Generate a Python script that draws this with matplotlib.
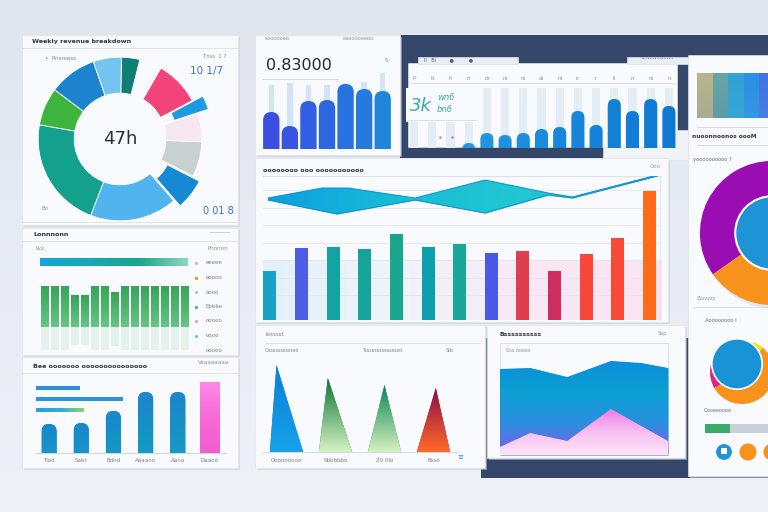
import numpy as np
import matplotlib.pyplot as plt
from matplotlib.patches import Rectangle, FancyBboxPatch, Polygon, Circle
from matplotlib.colors import LinearSegmentedColormap

W, H = 768, 512

# ---------------- values ----------------
donut_sizes = [13, 16, 32, 10, 20, 25, 22, 62, 79, 27, 34, 20]
donut_colors = ['#0f7f75', '#f9fafd', '#f2447a', '#1e9be0', '#f6e7f0', '#c9d0d0',
                '#1689d4', '#52b4ee', '#13a08c', '#3db53c', '#1c84cf', '#74c3f0']
donut_explode = [0, 0, 0, 0.14, 0, 0, 0.1, 0, 0, 0, 0, 0]
donut_label = '47h'

top_progress = [148]
green_vals = [41, 41, 41, 32, 32, 41, 41, 35, 41, 41, 41, 41, 41, 41, 41]
green_legend = ['eeeee', 'ooooo', 'oooo', 'Ebbbo', 'ooooo', 'oooo', 'ooooo']
green_marks = ['#b7bcc4', '#f08a24', '#b7bcc4', '#4a9be0', '#f39ac8', '#5cc8e0', '#ffffff']

lb_cats = ['Tlod', 'Sabr', 'Bdnd', 'Aaaano', 'Aana', 'Daaoo']
lb_vals = [29, 30, 42, 61, 61, 71]
lb_lines = [44, 87, 48]

ct_vals = [37, 23, 48, 49, 65, 60, 58]
ct_ghost = [64, 66, 64, 64, 66, 67, 76]

dk_vals = [0, 0, 0, 5, 15, 13, 15, 19, 21, 37, 23, 49, 37, 49, 42]
dk_ghost = [58, 60, 60, 60, 60, 60, 60, 60, 60, 60, 60, 60, 60, 60, 60]
dk_ticks = ['p', 'b', 'h', 'n', 'rb', 'ni', 'ni', 'ai', 'ni', 'rr', 'r', 'li', 'n', 'ni', 'n']

stripe_vals = [1, 1, 1, 1, 1]
stripe_cols = [('#b9b48a', '#a8ad92'), ('#6aa5a8', '#5c9ca6'), ('#2ea3d4', '#39a6d6'),
               ('#2b8fe3', '#3596e4'), ('#3f73e2', '#4a7de4')]

main_vals = [49, 72, 73, 71, 86, 73, 76, 67, 69, 49, 66, 82, 129]
main_cols = ['#17a2c6', '#4d5de6', '#13a3a3', '#15a39c', '#1aa68c', '#0e9fae', '#18a79a',
             '#4a58e8', '#dd3f4f', '#cc2e5e', '#f9483a', '#f84a36', '#ff6b1c']
band_x = [-0.06, 1.65, 2.12, 2.47, 4.59, 6.8, 8.8, 9.56, 12.25]
band_hi = [122, 132, 132, 132, 122, 140, 127, 123, 145]
band_lo = [120, 109, 106, 108, 120, 107, 125, 122, 144]

tri_vals = [87, 74, 67, 64]
tri_labels = ['Ooooooooo', 'Sbbbbbo', 'Z0 0lo', 'Bsso']
tri_skew = [0.2, 0.27, 0.5, 0.57]
tri_cols = [('#0b7ed6', '#16a3ea'), ('#0c7438', '#d6f3c2'), ('#0e8452', '#d4f2c0'),
            ('#8c0d48', '#ff6b28')]

area_x = [0, 9, 20, 33, 42, 50]
area_blue = [86, 87, 78, 94, 92, 87]
area_pink = [8, 22, 14, 46, 29, 14]

rd_sizes = [125, 130, 105]
rd_cols = ['#9a0db2', '#f7931c', '#9a0db2']
rs_sizes = [200, 20, 60, 80]
rs_cols = ['#f7931c', '#f2e21c', 'none', '#d7267f']
bar_progress = [26, 74]
icon_cols = ['#1f93dc', '#f7931c', '#f7931c']

# ---------------- helpers ----------------
fig = plt.figure(figsize=(W / 100, H / 100), dpi=100)
bg = fig.add_axes([0, 0, 1, 1], zorder=0)
bg.imshow(np.linspace(0, 1, 64).reshape(-1, 1),
          cmap=LinearSegmentedColormap.from_list('bg', ['#e1e6ee', '#eef1f6']),
          extent=(0, W, H, 0), aspect='auto', zorder=0)
bg.set_xlim(0, W)
bg.set_ylim(H, 0)
bg.axis('off')


def card(x0, y0, x1, y1, fc='#f9fafd', shadow=True, z=2):
    if shadow:
        bg.add_patch(Rectangle((x0 + 1.5, y0 + 2), x1 - x0, y1 - y0, fc='#c6cdda',
                               ec='none', alpha=0.55, zorder=z - 0.1))
    bg.add_patch(Rectangle((x0, y0), x1 - x0, y1 - y0, fc=fc, ec='#dde2ea', lw=0.5, zorder=z))


def txt(x, y, s, size=4.5, color='#4a4f5a', **kw):
    bg.text(x, y, s, fontsize=size, color=color, va='center', zorder=6, **kw)


def line(x0, x1, y, color='#dde1e8', lw=0.6):
    bg.plot([x0, x1], [y, y], color=color, lw=lw, zorder=5)


def pax(x0, y0, x1, y1, z=3):
    a = fig.add_axes([x0 / W, 1 - y1 / H, (x1 - x0) / W, (y1 - y0) / H], zorder=z)
    a.axis('off')
    return a


def grad(ax, path, trans, xy, cols, horizontal=False, z=2, alpha=1):
    x0, y0 = xy.min(0)
    x1, y1 = xy.max(0)
    cmap = LinearSegmentedColormap.from_list('g', cols)
    a = np.linspace(0, 1, 256)
    a = a.reshape(1, -1) if horizontal else a.reshape(-1, 1)
    im = ax.imshow(a, cmap=cmap, extent=(x0, x1, y0, y1), origin='upper', aspect='auto',
                   interpolation='bilinear', zorder=z, alpha=alpha)
    im.set_clip_path(path, trans)


def grad_patch(ax, p, cols, horizontal=False):
    xy = p.get_patch_transform().transform(p.get_path().vertices)
    grad(ax, p.get_path(), p.get_transform(), xy, cols, horizontal, p.get_zorder())


def grad_coll(ax, coll, cols, horizontal=False, z=2):
    path = coll.get_paths()[0]
    grad(ax, path, ax.transData, path.vertices, cols, horizontal, z)


def rbar(ax, xs, hs, w, colors, sx, sy):
    asp = sx / sy
    ry = w / 2 * asp
    out = []
    for x, h, c in zip(xs, hs, colors):
        if h <= 0:
            continue
        p = FancyBboxPatch((x - w / 2, -2 * ry), w, h + 2 * ry,
                           boxstyle=f"round,pad=0,rounding_size={w / 2}",
                           mutation_aspect=asp, fc=c, ec='none', zorder=2)
        ax.add_patch(p)
        out.append(p)
    return out


# ---------------- panels / cards ----------------
navy = '#34466a'
bg.add_patch(Rectangle((400, 35), 368, 22, fc=navy, ec='none', zorder=1.5))
bg.add_patch(Rectangle((400, 35), 290, 123, fc=navy, ec='none', zorder=1.5))
bg.add_patch(Rectangle((481, 338), 287, 140, fc=navy, ec='none', zorder=1.5))

card(22, 35, 238, 225)
card(22, 228, 238, 355)
card(22, 357, 238, 468)
card(255, 35, 400, 155)
card(603, 130, 690, 160, fc='#f1f3f7', shadow=False)
card(408, 63, 677, 147, shadow=False)
card(418, 57, 518, 64, fc='#e9edf4', shadow=False)
card(627, 57, 690, 64, fc='#e9edf4', shadow=False)
card(255, 158, 668, 322)
card(255, 325, 485, 468)
card(487, 325, 685, 458)
card(688, 55, 790, 476)

# ---------------- left top: donut ----------------
txt(32, 42, 'Weekly revenue breakdown', 4.6, '#30353f', fontweight='bold')
line(22, 238, 48)
txt(45, 59, '•  Pnsrooss', 4, '#7a808a')
txt(203, 56, 'Tnss  1 7', 3.8, '#8a909a')
txt(190, 71, '10 1/7', 7.5, '#3d6fd2')
txt(42, 208, 'Bo', 4, '#8a909a')
txt(203, 211, '0 01 8', 7, '#3d6fd2')
line(22, 238, 222)

ax = pax(30, 49, 210, 229)
wedges, _ = ax.pie(donut_sizes, colors=donut_colors, startangle=89, counterclock=False,
                   explode=donut_explode, radius=1,
                   wedgeprops=dict(width=0.44, edgecolor='white', linewidth=0.6))
wedges[1].set_visible(False)
ax.text(0, 0, donut_label, ha='center', va='center', fontsize=13, color='#2a2f38')
ax.set_xlim(-1.1, 1.1)
ax.set_ylim(-1.1, 1.1)

# ---------------- left middle: green bars ----------------
txt(33, 234, 'Lonnnonn', 4.6, '#30353f', fontweight='bold')
txt(36, 249, 'Lkk', 4, '#8a909a')
txt(208, 249, 'Pnnnnn', 4, '#8a909a')
line(210, 229, 232, '#c4cbd6')
line(22, 238, 241)
for i, (s, c) in enumerate(zip(green_legend, green_marks)):
    y = 263 + i * 14.5
    txt(206, y, s, 4, '#7a808a')
    bg.scatter([196], [y], s=5, color=c, zorder=6, lw=0)

ax = pax(40, 258, 190, 266)
b = ax.barh([0], top_progress, height=0.9, color='#17a5d0')
grad_patch(ax, b[0], ['#17a5d8', '#16a9b4', '#1aa58c', '#8fd6c0'], horizontal=True)
ax.set_xlim(0, 150)
ax.set_ylim(-0.5, 0.5)

ax = pax(40, 282, 190, 352)
gx = np.arange(len(green_vals))
bars = ax.bar(gx, green_vals, width=0.72, color='#46b06a')
for p in bars:
    grad_patch(ax, p, ['#35a55a', '#4db56c', '#66c684'])
ax.bar(gx, [-v * 0.55 for v in green_vals], width=0.72, color='#5cbf7a', alpha=0.13)
ax.set_xlim(-0.5, len(green_vals) - 0.5)
ax.set_ylim(-25, 45)

# ---------------- left bottom: rounded bars ----------------
txt(33, 367, 'Bee ooooooo ooooooooooooooo', 4.6, '#30353f', fontweight='bold')
txt(198, 362, 'Vaaaaaaaa', 4, '#8a909a')
line(22, 238, 373)
line(35, 226, 453, '#c9ced6')

ax = pax(36, 382, 140, 416)
ly = np.arange(len(lb_lines))[::-1]
hb = ax.barh(ly, lb_lines, height=0.38, color=['#2a8ed9', '#2896dc', '#2aa0e0'])
grad_patch(ax, hb[2], ['#2aa0e0', '#35a8d8', '#8bd46a'], horizontal=True)
ax.set_xlim(0, 104)
ax.set_ylim(-0.5, 2.5)

ax = pax(33, 378, 226, 453)
lx = np.arange(len(lb_vals))
sx, sy = 193 / len(lb_vals), 1.0
rb = rbar(ax, lx[:-1], lb_vals[:-1], 0.47, ['#1a8acd'] * 5, sx, sy)
for p in rb:
    grad_patch(ax, p, ['#1c86cf', '#1592c6', '#13a2bf'])
pb = ax.bar(lx[-1:], lb_vals[-1:], width=0.62, color='#f56ad8')
grad_patch(ax, pb[0], ['#ff88e6', '#f66ad8', '#f25ccf'])
for i, s in enumerate(lb_cats):
    ax.text(i, -7, s, ha='center', va='center', fontsize=4, color='#7a808a', clip_on=False)
ax.set_xlim(-0.5, len(lb_vals) - 0.5)
ax.set_ylim(0, 75)

# ---------------- center top: blue bars ----------------
txt(265, 39, 'oooooooo', 3.8, '#8a909a')
txt(343, 39, 'oooooooooo', 3.8, '#8a909a')
txt(266, 66, '0.83000', 11.5, '#23272e')
txt(385, 60, 'S', 3.8, '#8a909a')
line(262, 338, 79, '#d3d8e0')

ax = pax(262, 69, 392, 149)
cx = np.arange(len(ct_vals))
ax.bar(cx, ct_ghost, width=0.3, color='#d2e4f6')
ccm = LinearSegmentedColormap.from_list('c', ['#3b4de2', '#2e66e0', '#1f86da'])
rb = rbar(ax, cx, ct_vals, 0.88, [ccm(t) for t in np.linspace(0, 1, len(ct_vals))],
          130 / len(ct_vals), 1.0)
ax.set_xlim(-0.5, len(ct_vals) - 0.5)
ax.set_ylim(0, 80)

# ---------------- dark panel: bars on white card ----------------
txt(424, 60, 'll   Bi         ●          ●', 3.5, '#4d5a78')
txt(640, 60, '••••••••••••••', 3, '#6a7590')
line(410, 677, 83, '#d8dde5')

ax = pax(405, 70, 678, 148)
dx = np.arange(len(dk_vals))
ax.bar(dx, dk_ghost, width=0.45, color='#e4edf6')
dcm = LinearSegmentedColormap.from_list('d', ['#2fa3e4', '#1a8adc', '#0e78d2'])
rb = rbar(ax, dx, dk_vals, 0.72, [dcm(t) for t in np.linspace(0, 1, len(dk_vals))],
          273 / len(dk_vals), 1.0)
for i, s in enumerate(dk_ticks):
    ax.text(i, 70, s, ha='center', va='center', fontsize=4,
            color='#e0559a' if i == len(dk_ticks) - 1 else '#8a909a')
# headline number sits on a white patch over the first stripes
ax.add_patch(Rectangle((-0.45, 26), 3.9, 34, fc='#f9fafd', ec='none', zorder=4))
ax.plot([-0.45, 3.45], [28, 28], color='#d8dde5', lw=0.6, zorder=5)
ax.text(-0.2, 42, '3k', fontsize=13, color='#3aa8b0', va='center', fontstyle='italic', zorder=6)
ax.text(1.25, 50, 'wn6', fontsize=6, color='#3aa8b0', va='center', fontstyle='italic', zorder=6)
ax.text(1.25, 38, 'bn6', fontsize=6, color='#3aa8b0', va='center', fontstyle='italic', zorder=6)
ax.scatter([1.4, 2.1], [11, 11], s=3, color='#f06aa8', zorder=6, lw=0)
ax.set_xlim(-0.5, len(dk_vals) - 0.5)
ax.set_ylim(0, 78)

# ---------------- right column ----------------
ax = pax(697, 73, 775, 118)
sb = ax.bar(np.arange(len(stripe_vals)), stripe_vals, width=1.0,
            color=[c[0] for c in stripe_cols])
for p, c in zip(sb, stripe_cols):
    grad_patch(ax, p, list(c))
ax.set_xlim(-0.5, len(stripe_vals) - 0.5)
ax.set_ylim(0, 1)

line(697, 768, 127, '#d3d8e0')
txt(692, 137, 'nuoonnoonos oooM', 4.2, '#30353f', fontweight='bold')
line(697, 768, 145, '#d3d8e0')
txt(693, 159, 'yoooooooooo ?', 3.8, '#6a707a')
txt(697, 298, 'Zzzzzzz', 3.6, '#8a909a')
line(692, 768, 307, '#d8dde5')
txt(705, 320, 'Aoooooooo l', 3.8, '#6a707a')
txt(704, 411, 'Ooooooooo', 3.6, '#6a707a')

ax = pax(692, 153, 852, 313)
ax.add_patch(Circle((0.03, -0.05), 1.0, fc='#d3d9e3', ec='none', alpha=0.6, zorder=0))
ax.pie(rd_sizes, colors=rd_cols, startangle=90, counterclock=True, radius=1,
       wedgeprops=dict(linewidth=0))
ax.add_patch(Circle((0, 0), 0.51, fc='#1e93d6', ec='white', lw=1.5, zorder=5))
ax.set_xlim(-1.11, 1.11)
ax.set_ylim(-1.11, 1.11)

ax = pax(702, 332, 782, 412)
ax.pie(rs_sizes, colors=rs_cols, startangle=-150, counterclock=True, radius=0.8,
       wedgeprops=dict(linewidth=0))
ax.add_patch(Circle((-0.125, 0.2), 0.63, fc='#1a93d6', ec='white', lw=1.2, zorder=5))
ax.set_xlim(-1, 1)
ax.set_ylim(-1, 1)

ax = pax(705, 424, 800, 433)
ax.barh([0], [bar_progress[0]], height=1, color='#3aaa6a')
ax.barh([0], [bar_progress[1]], left=[bar_progress[0]], height=1, color='#c9cfd6')
ax.set_xlim(0, 100)
ax.set_ylim(-0.5, 0.5)

ax = pax(712, 440, 784, 464)
ax.scatter(np.arange(len(icon_cols)), [0] * len(icon_cols), s=[130, 150, 150],
           c=icon_cols, marker='o', lw=0)
ax.scatter([0], [0.1], s=14, c='white', marker='s', lw=0)
ax.scatter([2], [0.1], s=14, c='white', marker='s', lw=0)
ax.set_xlim(-0.5, 2.5)
ax.set_ylim(-1, 1)

# ---------------- main center chart ----------------
txt(263, 170, 'oooooooo ooo ooooooooooo', 4.6, '#30353f', fontweight='bold')
txt(650, 166, 'Ooo', 4, '#7aa0c0')
bg.plot([660, 660], [176, 320], color='#dde1e8', lw=0.6, zorder=5)

ax = pax(263, 176, 662, 320)
xl = (-0.22, 12.4)
ax.imshow(np.linspace(0, 1, 256).reshape(1, -1),
          cmap=LinearSegmentedColormap.from_list('t', ['#d3eaf8', '#e8f1fa', '#f9ddef', '#fbd5ea']),
          extent=(xl[0], xl[1], 0, 60), aspect='auto', alpha=0.6, zorder=0.5)
for yv in np.arange(25, 145, 17.5):
    ax.axhline(yv, color='#e3e6ec', lw=0.6, zorder=1)
ax.axhline(144, color='#dde1e8', lw=0.8, zorder=1)
mx = np.arange(len(main_vals))
ax.bar(mx, main_vals, width=0.41, color=main_cols, zorder=2)
coll = ax.fill_between(band_x, band_lo, band_hi, color='#17b0d8', lw=0, zorder=3)
grad_coll(ax, coll, ['#0d9ee0', '#19bcd6', '#22c7d2', '#139fd8'], horizontal=True, z=3)
ax.plot(band_x, band_hi, color='#0b93cc', lw=0.7, zorder=4)
ax.plot(band_x, band_lo, color='#0b93cc', lw=0.7, zorder=4)
ax.set_xlim(*xl)
ax.set_ylim(0, 144)

# ---------------- bottom center: triangles ----------------
txt(265, 334, 'Iosssst', 4, '#7a808a')
line(265, 480, 343)
txt(265, 351, 'Ossssssssssso', 3.6, '#7a808a')
txt(362, 351, 'Tsssssssssssssso', 3.6, '#7a808a')
txt(446, 351, 'Sib', 3.6, '#7a808a')
line(262, 458, 452, '#cfd4dc')

ax = pax(262, 360, 458, 452)
for i, (v, k, c) in enumerate(zip(tri_vals, tri_skew, tri_cols)):
    left, right = i - 0.34, i + 0.34
    tri = Polygon([[left, 0], [left + k * 0.68, v], [right, 0]], closed=True,
                  fc=c[0], ec='none', zorder=2)
    ax.add_patch(tri)
    grad_patch(ax, tri, [c[0], c[1]])
    ax.text(i, -8, tri_labels[i], ha='center', va='center', fontsize=4, color='#7a808a',
            clip_on=False)
ax.set_xlim(-0.5, len(tri_vals) - 0.5)
ax.set_ylim(0, 92)
txt(457, 457, '≡', 5, '#3d7fd6')

# ---------------- bottom middle: area chart ----------------
txt(500, 334, 'Bssssssssss', 4.4, '#30353f', fontweight='bold')
txt(658, 334, 'Ssp', 3.8, '#8a909a')
bg.add_patch(Rectangle((500, 343), 168, 112, fc='none', ec='#d6dbe3', lw=0.6, zorder=5))
txt(506, 350, 'Sss oooos', 3.6, '#8a909a')

ax = pax(500, 343, 668, 455)
cb = ax.fill_between(area_x, 0, area_blue, color='#0a9ad6', lw=0, zorder=2)
grad_coll(ax, cb, ['#0b8ed8', '#0aa0d2', '#2b8ee0', '#8a58ea'], z=2)
cp = ax.fill_between(area_x, 0, area_pink, color='#f39aec', lw=0, zorder=3)
grad_coll(ax, cp, ['#ec7de8', '#f7c0f2', '#fde4fb'], z=3)
ax.set_xlim(area_x[0], area_x[-1])
ax.set_ylim(0, 112)

fig.savefig('out.png', dpi=100)
